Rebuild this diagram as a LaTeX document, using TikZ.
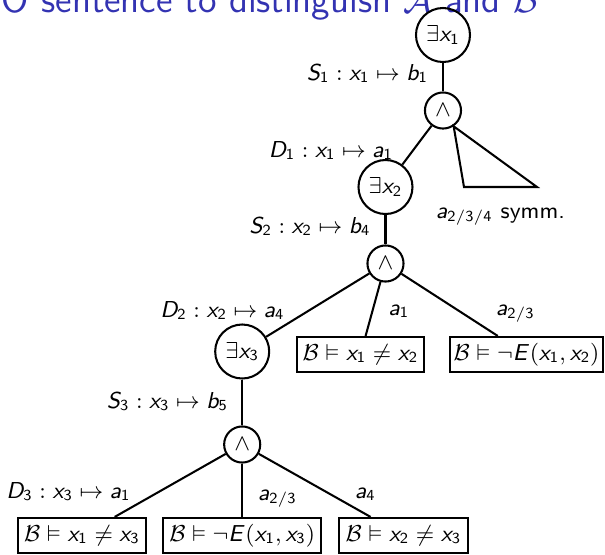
\documentclass[tikz,border=0pt]{standalone}
\usepackage{amssymb}
\DeclareSymbolFont{sfletters}{OT1}{cmss}{m}{sl}
\DeclareSymbolFont{sfdigits}{OT1}{cmss}{m}{n}
\DeclareMathSymbol{a}{\mathalpha}{sfletters}{`a}
\DeclareMathSymbol{b}{\mathalpha}{sfletters}{`b}
\DeclareMathSymbol{x}{\mathalpha}{sfletters}{`x}
\DeclareMathSymbol{S}{\mathalpha}{sfletters}{`S}
\DeclareMathSymbol{D}{\mathalpha}{sfletters}{`D}
\DeclareMathSymbol{E}{\mathalpha}{sfletters}{`E}
\DeclareMathSymbol{1}{\mathalpha}{sfdigits}{`1}
\DeclareMathSymbol{2}{\mathalpha}{sfdigits}{`2}
\DeclareMathSymbol{3}{\mathalpha}{sfdigits}{`3}
\DeclareMathSymbol{4}{\mathalpha}{sfdigits}{`4}
\DeclareMathSymbol{5}{\mathalpha}{sfdigits}{`5}
\definecolor{titleblue}{rgb}{0.2,0.2,0.7}
\newcommand{\treefont}{\fontsize{9}{11}\selectfont\sffamily}
\newcommand{\titlefont}{\fontsize{14.75}{18}\selectfont\sffamily}
\tikzset{
  exnode/.style={circle,draw,line width=0.8pt,minimum size=21.1pt,inner sep=0pt,font=\treefont},
  andnode/.style={circle,draw,line width=0.8pt,minimum size=14.1pt,inner sep=0pt,font=\treefont},
  leafbox/.style={draw,rectangle,line width=0.8pt,minimum height=13.7pt,inner sep=0pt,font=\treefont},
  lbl/.style={anchor=base,inner sep=0pt,font=\treefont},
  titlestyle/.style={anchor=base east,inner sep=0pt,font=\titlefont,text=titleblue},
  treeedge/.style={line width=0.8pt}
}
\begin{document}
\begin{tikzpicture}[x=0.390625pt,y=-0.390625pt]
\useasboundingbox (0,0) rectangle (605,555);
\node[titlestyle] (title) at (539,12.5) {FO sentence to distinguish $\mathcal{A}$ and $\mathcal{B}$};
% tree nodes
\node[exnode] (ex1) at (443,35) {$\exists x_1$};
\node[andnode] (and1) at (443,110.5) {$\wedge$};
\node[exnode] (ex2) at (385.5,187) {$\exists x_2$};
\node[andnode] (and2) at (385.5,263.5) {$\wedge$};
\node[exnode] (ex3) at (242.2,351.5) {$\exists x_3$};
\node[andnode] (and3) at (242.2,444.5) {$\wedge$};
\node[leafbox,minimum width=49.6pt] (b1) at (360.5,354.5) {$\mathcal{B}\vDash x_1\neq x_2$};
\node[leafbox,minimum width=59.8pt] (b2) at (526.5,354.5) {$\mathcal{B}\vDash \neg E(x_1,x_2)$};
\node[leafbox,minimum width=50pt] (c1) at (82,535.5) {$\mathcal{B}\vDash x_1\neq x_3$};
\node[leafbox,minimum width=61.7pt] (c2) at (242.2,535.5) {$\mathcal{B}\vDash \neg E(x_1,x_3)$};
\node[leafbox,minimum width=50.4pt] (c3) at (403.5,535.5) {$\mathcal{B}\vDash x_2\neq x_3$};
% triangle (symmetric cases)
\coordinate (tl) at (464,187);
\coordinate (tr) at (537,187);
\draw[treeedge] (and1.-56) -- (tl) -- (tr) -- cycle;
% edges
\draw[treeedge] (ex1) -- (and1);
\draw[treeedge] (and1) -- (ex2);
\draw[treeedge] (ex2) -- (and2);
\draw[treeedge] (and2) -- (ex3);
\draw[treeedge] (and2) -- (b1);
\draw[treeedge] (and2) -- (b2);
\draw[treeedge] (ex3) -- (and3);
\draw[treeedge] (and3) -- (c1);
\draw[treeedge] (and3) -- (c2);
\draw[treeedge] (and3) -- (c3);
% labels
\node[lbl] (l1) at (367.5,80) {$S_1 : x_1 \mapsto b_1$};
\node[lbl] (l2) at (331,157) {$D_1 : x_1 \mapsto a_1$};
\node[lbl] (l3) at (310,233) {$S_2 : x_2 \mapsto b_4$};
\node[lbl] (l4) at (222.5,317) {$D_2 : x_2 \mapsto a_4$};
\node[lbl] (l5) at (399,315) {$a_1$};
\node[lbl] (l6) at (515.5,315) {$a_{2/3}$};
\node[lbl] (l7) at (500.5,218) {$a_{2/3/4}$ symm.};
\node[lbl] (l8) at (167.5,408) {$S_3 : x_3 \mapsto b_5$};
\node[lbl] (l9) at (68.5,498) {$D_3 : x_3 \mapsto a_1$};
\node[lbl] (l10) at (277.5,500) {$a_{2/3}$};
\node[lbl] (l11) at (365.5,498) {$a_4$};
\end{tikzpicture}
\end{document}
